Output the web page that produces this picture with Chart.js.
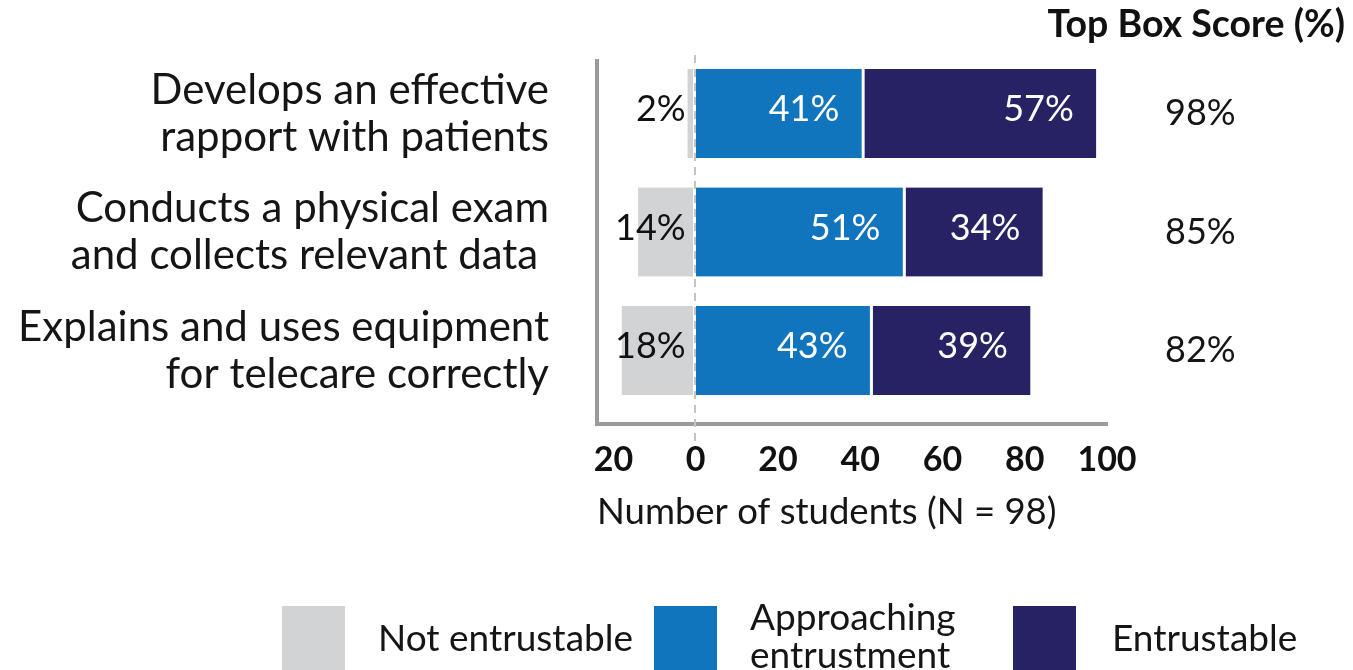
<!DOCTYPE html>
<html><head><meta charset="utf-8">
<script src="https://cdn.jsdelivr.net/npm/chart.js@4"></script>
<style>html,body{margin:0;padding:0;background:#fff;}#wrap{width:1353px;height:670px;}</style>
</head><body><div id="wrap"><canvas id="c" width="1353" height="670"></canvas></div>
<script>
const categories = [["Develops an effective","rapport with patients"],["Conducts a physical exam","and collects relevant data "],["Explains and uses equipment","for telecare correctly"]];
const legendLabels = [["Not entrustable"],["Approaching","entrustment"],["Entrustable"]];
const notEntrustable = [2,14,18];
const approaching = [41,51,43];
const entrustable = [57,34,39];
const topBoxScore = [98,85,82];
const xTickValues = [-20,0,20,40,60,80,100];
const categoryIndex = [0,1,2];
const colors = ['#d1d3d4','#1175bd','#272263'];

const FF = "Lato, 'Open Sans', sans-serif";
Chart.defaults.font.family = FF;
Chart.defaults.color = '#151515';

const zeroLine = {
  id:'zeroLine',
  afterDatasetsDraw(chart){
    const {ctx, chartArea} = chart;
    const x = Math.round(chart.scales.x.getPixelForValue(0)) - 1;
    ctx.save();
    ctx.strokeStyle = '#c4c4c4'; ctx.lineWidth = 2; ctx.setLineDash([8,6]);
    ctx.beginPath(); ctx.moveTo(x, chartArea.top - 6); ctx.lineTo(x, chartArea.bottom + 18); ctx.stroke();
    ctx.restore();
  }
};
const barLabels = {
  id:'barLabels',
  afterDatasetsDraw(chart){
    const ctx = chart.ctx;
    const zeroX = chart.scales.x.getPixelForValue(0);
    chart.data.datasets.forEach((ds, di) => {
      chart.getDatasetMeta(di).data.forEach((bar, i) => {
        ctx.save();
        ctx.font = '36px ' + FF;
        ctx.textBaseline = 'middle'; ctx.textAlign = 'right';
        const t = ds.pct[i] + '%';
        if (di === 0) { ctx.fillStyle = '#111'; ctx.fillText(t, zeroX - 10, bar.y - 4); }
        else { ctx.fillStyle = '#fff'; ctx.fillText(t, Math.max(bar.x, bar.base) - 25, bar.y - 4); }
        ctx.restore();
      });
    });
  }
};
const customLegend = {
  id:'customLegend',
  afterDraw(chart){
    const ctx = chart.ctx;
    const boxX = [282, 654, 1013], textX = [378, 750, 1112];
    ctx.save();
    ctx.font = '37px ' + FF; ctx.textBaseline = 'middle'; ctx.textAlign = 'left';
    chart.data.datasets.forEach((ds, i) => {
      ctx.fillStyle = ds.backgroundColor;
      ctx.fillRect(boxX[i], 606, 63, 64);
      ctx.fillStyle = '#151515';
      const lines = legendLabels[i];
      if (lines.length === 1) ctx.fillText(lines[0], textX[i], 639);
      else lines.forEach((l, k) => ctx.fillText(l, textX[i], 618 + k * 38));
    });
    ctx.restore();
  }
};

const yMin = -0.443, yMax = 2.62;
const catTicks = s => { s.ticks = categoryIndex.map(v => ({value: v})); };
const noPad = s => { s.paddingTop = 0; s.paddingBottom = 0; };
const mk = (label, arr, sign, ci) => ({
  label, pct: arr, data: arr.map((v, i) => ({x: sign * v, y: categoryIndex[i]})),
  backgroundColor: colors[ci], borderColor: '#fff', borderSkipped: false,
  borderWidth: {left: 0, right: 3, top: 0, bottom: 0}, stack: 's', barThickness: 89
});

new Chart(document.getElementById('c'), {
  type: 'bar',
  data: { datasets: [
    mk(legendLabels[0].join(' '), notEntrustable, -1, 0),
    mk(legendLabels[1].join(' '), approaching, 1, 1),
    mk(legendLabels[2].join(' '), entrustable, 1, 2)
  ]},
  options: {
    indexAxis: 'y', responsive: false, animation: false, devicePixelRatio: 1,
    layout: {padding: {left: 0, right: 8, top: 0, bottom: 136}},
    plugins: {
      legend: {display: false}, tooltip: {enabled: false},
      title: {display: true, text: 'Top Box Score (%)', align: 'end', color: '#111',
        font: {size: 37.5, weight: 'bold', lineHeight: 1.2}, padding: {top: 2, bottom: 14}}
    },
    scales: {
      x: { type: 'linear', min: -24, max: 100, stacked: true,
        afterBuildTicks: s => { s.ticks = xTickValues.map(v => ({value: v})); },
        afterFit: s => { s.height = 110; },
        ticks: {callback: v => Math.abs(v), font: {size: 34, weight: 'bold', lineHeight: 1.2}, color: '#111', padding: 16, maxRotation: 0, autoSkip: false},
        grid: {display: false, drawTicks: false},
        border: {display: true, color: '#9b9b9b', width: 4},
        title: {display: true, text: 'Number of students (N = 98)', align: 'start', color: '#151515', font: {size: 36.5, lineHeight: 1.2}, padding: {top: 9, bottom: 0}}
      },
      y: { type: 'linear', min: yMin, max: yMax, reverse: true, offset: false,
        afterBuildTicks: catTicks,
        ticks: {callback: v => categories[v], font: {size: 42, lineHeight: 1.12}, color: '#151515', padding: 48, autoSkip: false},
        grid: {display: false, drawTicks: false, offset: false},
        border: {display: true, color: '#9b9b9b', width: 4},
        afterFit: s => { s.width = 597; noPad(s); }
      },
      y2: { type: 'linear', position: 'right', min: yMin, max: yMax, reverse: true, offset: false,
        afterBuildTicks: catTicks,
        ticks: {callback: v => topBoxScore[v] + '%', font: {size: 36}, color: '#151515', padding: 58, autoSkip: false},
        grid: {display: false, drawTicks: false, offset: false},
        border: {display: false},
        afterFit: s => { s.width = 238; noPad(s); }
      }
    }
  },
  plugins: [zeroLine, barLabels, customLegend]
});
</script>
</body></html>
